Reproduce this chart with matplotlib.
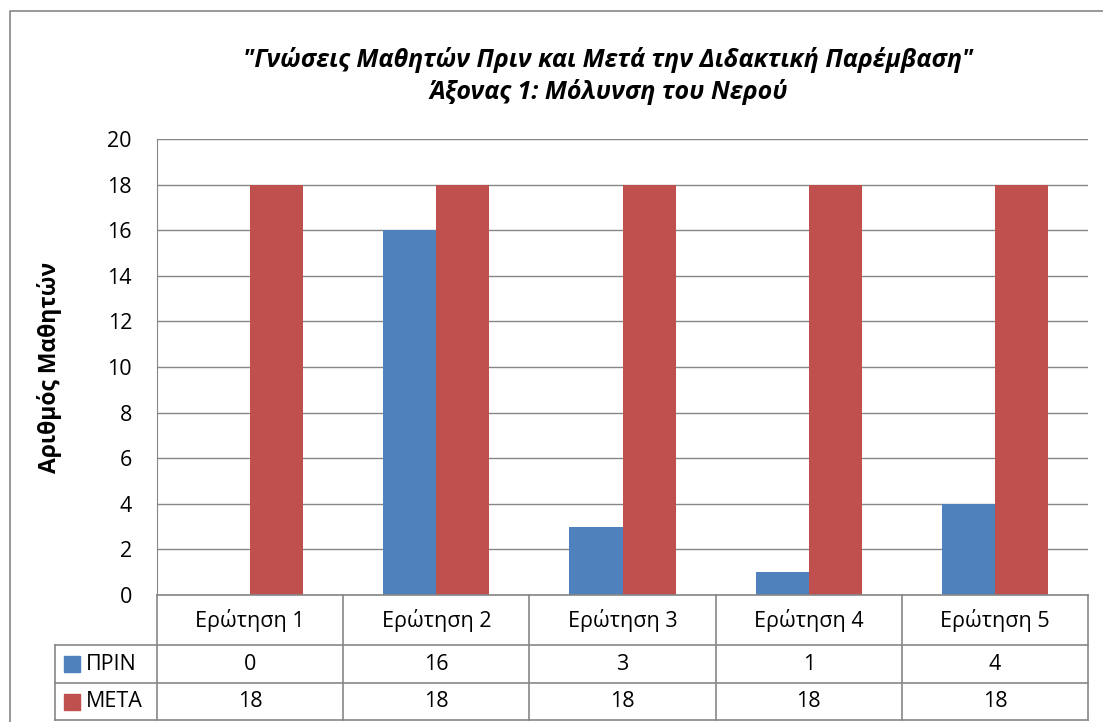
import matplotlib.pyplot as plt
import numpy as np

plt.rcParams['font.family'] = ['Open Sans', 'DejaVu Sans']

categories = ["Ερώτηση 1", "Ερώτηση 2", "Ερώτηση 3", "Ερώτηση 4", "Ερώτηση 5"]
prin = [0, 16, 3, 1, 4]
meta = [18, 18, 18, 18, 18]
series_names = ["ΠΡΙΝ", "ΜΕΤΑ"]
series_colors = ["#4F81BD", "#C0504D"]
yticks = [0, 2, 4, 6, 8, 10, 12, 14, 16, 18, 20]

W, H = 1103, 722
fig = plt.figure(figsize=(W / 100, H / 100), dpi=100)

# pixel layout
plot_l, plot_r, plot_t, plot_b = 157, 1088, 139, 595
tab_l = 55
row_h = [50, 38, 37]
grid_c = "#868686"
fs = 15.5

ax = fig.add_axes([plot_l / W, 1 - plot_b / H, (plot_r - plot_l) / W, (plot_b - plot_t) / H])
x = np.arange(len(categories))
w = 0.285
ax.bar(x - w / 2, prin, w, color=series_colors[0], zorder=3)
ax.bar(x + w / 2, meta, w, color=series_colors[1], zorder=3)
ax.set_xlim(-0.5, len(categories) - 0.5)
ax.set_ylim(0, 20)
ax.set_yticks(yticks)
ax.set_yticklabels([str(v) for v in yticks], fontsize=fs)
ax.tick_params(axis='y', length=0, pad=18)
ax.set_xticks([])
ax.yaxis.grid(True, color=grid_c, linewidth=1)
for s in ['top', 'right', 'bottom']:
    ax.spines[s].set_visible(False)
ax.spines['left'].set_color(grid_c)
ax.set_ylabel("Αριθμός Μαθητών", fontsize=16.5, fontweight='bold')
ax.yaxis.set_label_coords((62 - plot_l) / (plot_r - plot_l), 0.5)

# overlay in pixel coordinates for frame and data table
ov = fig.add_axes([0, 0, 1, 1], facecolor='none')
ov.set_xlim(0, W)
ov.set_ylim(H, 0)
ov.axis('off')

# outer chart border
ov.plot([10, 10, W + 5], [H + 5, 11, 11], color=grid_c, lw=1.2)

title = '"Γνώσεις Μαθητών Πριν και Μετά την Διδακτική Παρέμβαση"\nΆξονας 1: Μόλυνση του Νερού'
ov.text((plot_l + plot_r) / 2 - 14, 76, title, ha='center', va='center', fontsize=18,
        fontweight='bold', fontstyle='italic', linespacing=1.3)

# data table
col_w = (plot_r - plot_l) / len(categories)
y0 = plot_b
y1 = y0 + row_h[0]
y2 = y1 + row_h[1]
y3 = y2 + row_h[2]
lc = grid_c
for i in range(len(categories) + 1):
    xx = plot_l + i * col_w
    ov.plot([xx, xx], [y0, y3], color=lc, lw=1.2)
ov.plot([tab_l, tab_l], [y1, y3], color=lc, lw=1.2)
ov.plot([plot_l, plot_r], [y0, y0], color=lc, lw=1.2)
for yy in (y1, y2, y3):
    ov.plot([tab_l, plot_r], [yy, yy], color=lc, lw=1.2)

for i, c in enumerate(categories):
    cx = plot_l + (i + 0.5) * col_w
    ov.text(cx, (y0 + y1) / 2, c, ha='center', va='center', fontsize=fs)
    ov.text(cx, (y1 + y2) / 2, str(prin[i]), ha='center', va='center', fontsize=fs)
    ov.text(cx, (y2 + y3) / 2, str(meta[i]), ha='center', va='center', fontsize=fs)

for name, col, (ya, yb) in zip(series_names, series_colors, [(y1, y2), (y2, y3)]):
    cy = (ya + yb) / 2
    ov.add_patch(plt.Rectangle((64, cy - 8), 16, 16, color=col))
    ov.text(86, cy, name, ha='left', va='center', fontsize=fs)

fig.savefig("out.png", dpi=100)
